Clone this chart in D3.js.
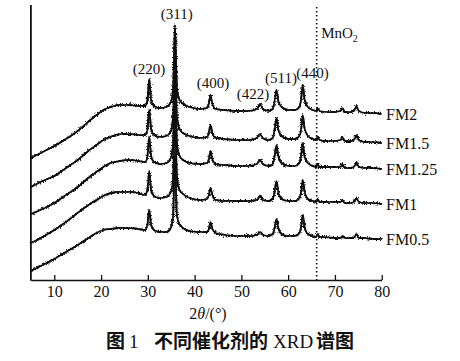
<!DOCTYPE html>
<html><head><meta charset="utf-8">
<script src="https://cdn.jsdelivr.net/npm/d3@7"></script>
<style>html,body{margin:0;padding:0;background:#fff;}</style>
</head><body>
<svg id="c" width="460" height="361"></svg>
<script>
// 2θ sampling positions (degrees)
const twoTheta = [5,7.5,10,12.5,15,17,19,20.5,22,24,26,28,29.4,29.9,30.3,30.7,31.3,32.5,34,34.9,35.4,35.8,36.2,36.7,37.5,39,41,42.7,43.1,43.4,43.8,44.5,46.5,49,51.5,53.3,54.0,54.6,55.8,56.7,57.1,57.5,57.9,58.6,60,61.5,62.4,62.8,63.1,63.5,64.2,65.3,66.0,66.3,66.7,68,69.5,71.2,71.6,72.1,73.5,74.2,74.6,75.1,76.5,78,80];
// intensities (a.u., stacked)
const fm2  = [122,128,134,141,149,157,165,170,173,175,175,174,174,179,201,180,174,172,173,178,192,255,194,181,176,173,171,172,178,185,176,171,170,169,169,171,176,171,169,171,179,190,179,173,170,170,173,182,195,181,173,170,169,172,169,168,168,169,172,168,168,170,174,169,167,167,166];
const fm15 = [93,99,104,112,120,128,135,140,143,146,146,145,145,150,170,151,145,143,144,149,163,222,165,152,147,144,142,143,148,155,147,142,141,140,140,142,146,142,140,142,150,162,150,144,141,141,144,152,165,152,144,141,140,143,140,139,139,140,143,139,139,141,145,140,138,138,137];
const fm125= [66,71,77,85,93,101,108,113,117,119,120,119,118,123,143,124,118,116,117,122,136,200,138,125,120,117,116,117,122,129,121,116,115,114,114,116,120,116,114,116,124,135,124,117,114,114,117,125,137,124,117,114,113,116,113,113,113,113,116,112,112,114,118,113,112,112,111];
const fm1  = [37,43,50,58,67,74,80,84,87,88,88,87,85,90,109,90,84,82,83,88,102,168,104,91,86,82,80,81,86,92,85,80,79,79,79,80,84,80,79,81,88,99,88,81,79,79,82,89,100,89,81,79,78,81,78,78,78,78,80,77,77,79,82,78,77,77,76];
const fm05 = [9,15,21,28,35,41,47,50,51,52,52,51,50,55,70,55,50,48,48,52,64,125,66,56,52,49,48,48,52,58,51,47,45,44,44,45,48,45,44,46,52,61,52,46,44,44,47,54,65,53,46,44,43,46,43,43,42,42,44,42,42,43,46,42,42,41,41];
const seriesNames = ["FM2","FM1.5","FM1.25","FM1","FM0.5"];
const seriesValues = [fm2, fm15, fm125, fm1, fm05];
const xTicks = [10,20,30,40,50,60,70,80];
const peakLabels = ["(220)","(311)","(400)","(422)","(511)","(440)"];
const peakLabelTheta = [30.25,36.17,43.94,52.49,58.47,65.2];
const peakLabelLevel = [206,261,192,181,197,202];
const mno2Theta = 66.1;

const svg = d3.select("#c");
const x = d3.scaleLinear().domain([5,80]).range([30.9,381.7]);
const y = d3.scaleLinear().domain([0,275]).range([280,5]);
const serif = "'Liberation Serif','Times New Roman',serif";

// rendering texture for the measured (noisy) traces
const defs = svg.append("defs");
const f = defs.append("filter").attr("id","rough").attr("x","-2%").attr("y","-10%").attr("width","104%").attr("height","120%");
f.append("feTurbulence").attr("type","fractalNoise").attr("baseFrequency","1.4 0.9").attr("numOctaves",2).attr("seed",7).attr("result","n");
f.append("feDisplacementMap").attr("in","SourceGraphic").attr("in2","n").attr("scale",5).attr("xChannelSelector","R").attr("yChannelSelector","G");

// MnO2 reference line
svg.append("line").attr("x1",x(mno2Theta)).attr("x2",x(mno2Theta)).attr("y1",7).attr("y2",280)
  .attr("stroke","#111").attr("stroke-width",1.6).attr("stroke-dasharray","1.5,2.5");

const line = d3.line().x((d,i)=>x(twoTheta[i])).y(d=>y(d)).curve(d3.curveMonotoneX);
const traces = svg.append("g");
traces.selectAll("path.core").data(seriesValues).join("path").attr("class","core")
  .attr("d",line).attr("fill","none").attr("stroke","#111").attr("stroke-width",1.7)
  .attr("stroke-linejoin","round");
traces.selectAll("path.fuzz").data(seriesValues).join("path").attr("class","fuzz")
  .attr("d",line).attr("fill","none").attr("stroke","#111").attr("stroke-width",1.8)
  .attr("stroke-linejoin","round").attr("filter","url(#rough)");

// axes
const xa = svg.append("g").attr("transform","translate(0,280)")
  .call(d3.axisBottom(x).tickValues(xTicks).tickSize(-5).tickSizeOuter(0).tickPadding(6).tickFormat(d3.format("d")));
xa.select(".domain").attr("stroke","#111").attr("stroke-width",1.5);
xa.selectAll(".tick line").attr("stroke","#111").attr("stroke-width",1.3);
xa.selectAll(".tick text").attr("font-family",serif).attr("font-size",16).attr("fill","#111");
svg.append("line").attr("x1",x(5)).attr("x2",x(5)).attr("y1",5).attr("y2",280.7)
  .attr("stroke","#111").attr("stroke-width",1.8);

// peak labels
svg.append("g").selectAll("text").data(peakLabels).join("text")
  .attr("x",(d,i)=>x(peakLabelTheta[i])).attr("y",(d,i)=>y(peakLabelLevel[i]))
  .attr("text-anchor","middle").attr("font-family",serif).attr("font-size",15).attr("fill","#111").text(d=>d);

// series labels
svg.append("g").selectAll("text").data(seriesNames).join("text")
  .attr("x",386).attr("y",(d,i)=>y(seriesValues[i][seriesValues[i].length-1]))
  .attr("dy","0.37em").attr("font-family",serif).attr("font-size",16).attr("fill","#111").text(d=>d);

// MnO2 label
const mt = svg.append("text").attr("x",x(mno2Theta)+4.5).attr("y",38).attr("font-family",serif).attr("font-size",15).attr("fill","#111");
mt.append("tspan").text("MnO");
mt.append("tspan").attr("font-size",10).attr("dy",4).text("2");

// axis title
const at = svg.append("text").attr("x",208).attr("y",319).attr("text-anchor","middle").attr("font-family",serif).attr("font-size",16).attr("fill","#111");
at.append("tspan").text("2");
at.append("tspan").attr("font-style","italic").text("θ");
at.append("tspan").text("/(°)");

// caption
const cjk = "'Noto Sans CJK SC',sans-serif";
const cap = svg.append("g").attr("fill","#111").attr("font-size",19);
cap.append("text").attr("x",106).attr("y",348).attr("font-family",cjk).attr("font-weight",700).text("图");
cap.append("text").attr("x",129).attr("y",348).attr("font-family",serif).text("1");
cap.append("text").attr("x",154).attr("y",348).attr("font-family",cjk).attr("font-weight",700).text("不同催化剂的");
cap.append("text").attr("x",273).attr("y",348).attr("font-family",serif).text("XRD");
cap.append("text").attr("x",316).attr("y",348).attr("font-family",cjk).attr("font-weight",700).text("谱图");
</script>
</body></html>
